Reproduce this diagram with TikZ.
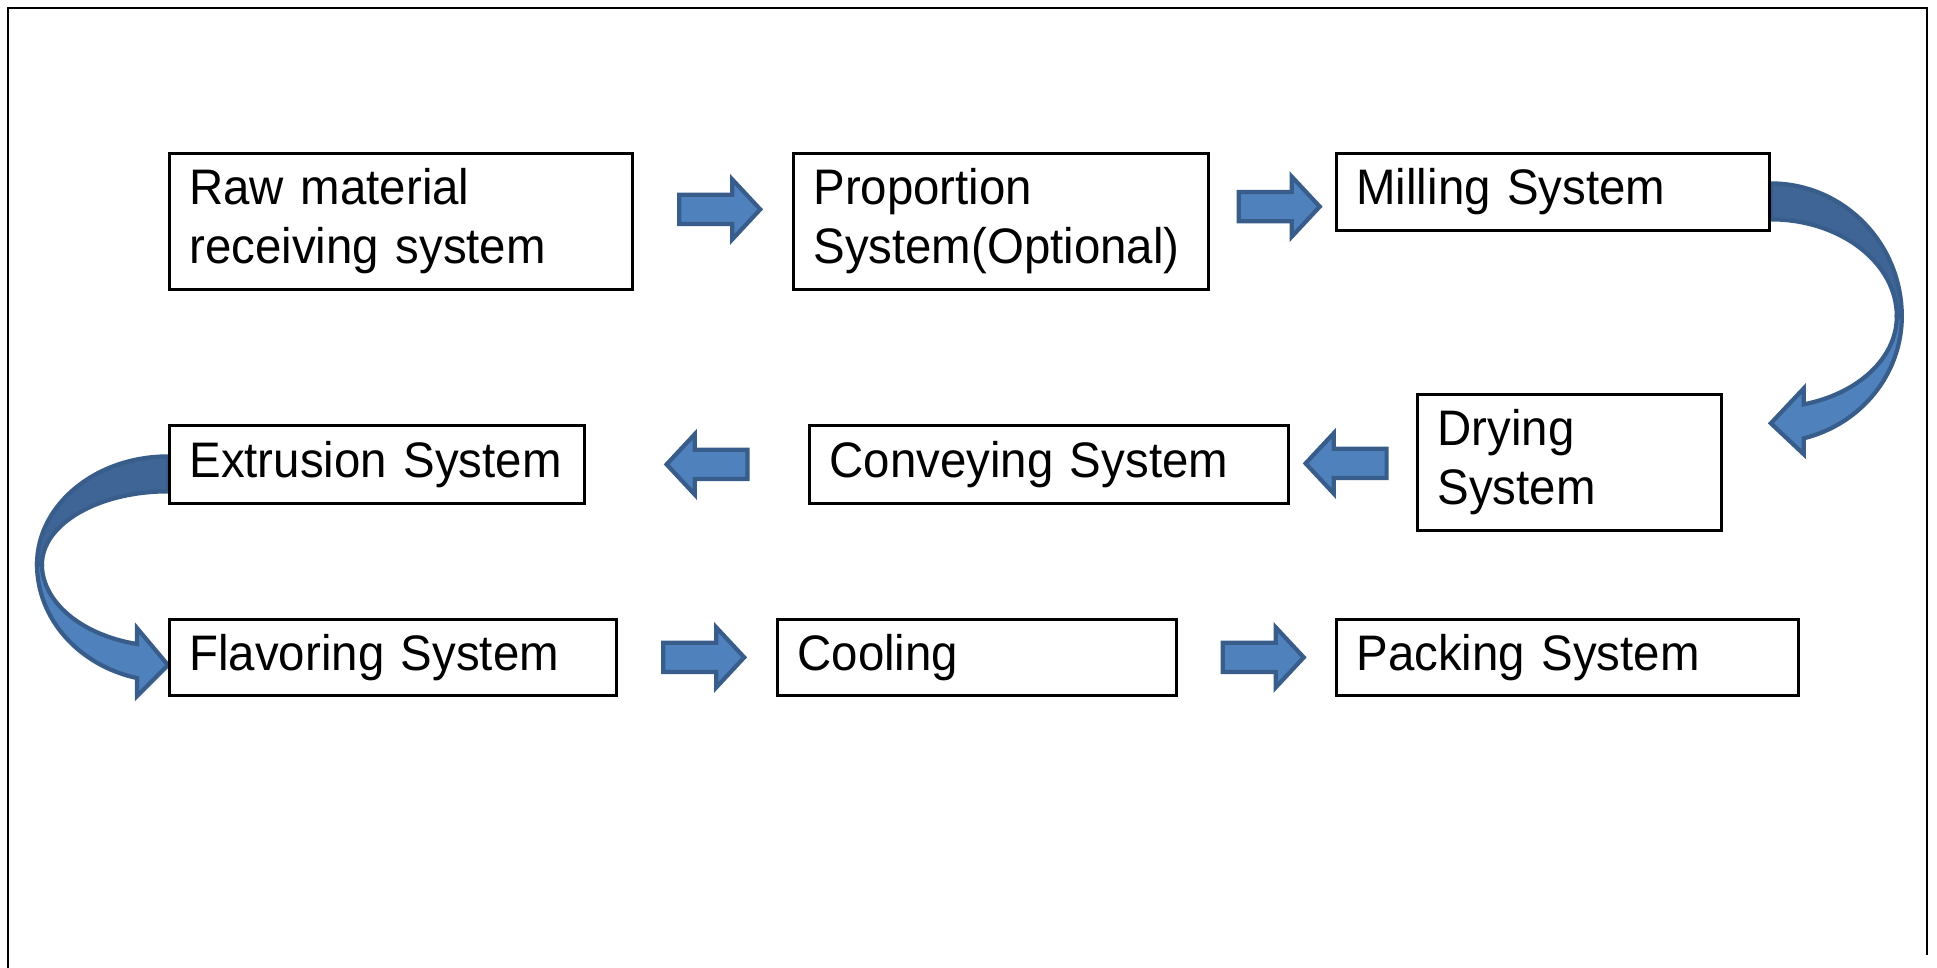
\documentclass[tikz,border=0pt]{standalone}
\usepackage{fontspec}
\setmainfont[FakeStretch=0.95]{Liberation Sans}
\usetikzlibrary{shapes.arrows,calc,backgrounds}

\definecolor{arrowfill}{RGB}{79,129,189}
\definecolor{arrowline}{RGB}{56,93,138}
\definecolor{arrowback}{RGB}{63,101,150}

\tikzset{
  sysbox/.style={draw, line width=0.8pt, rectangle, anchor=north west, align=left,
    inner xsep=0.2cm, font=\fontsize{14.2}{16.8}\selectfont},
  blockarrow/.style={single arrow, draw=arrowline, fill=arrowfill, line width=1.2pt,
    inner xsep=0pt, inner ysep=0.125cm, minimum height=0.81cm, minimum width=0.56cm,
    single arrow head extend=0.155cm, single arrow tip angle=94},
  bandback/.style={draw=arrowline, fill=arrowback, line width=1.2pt},
  bandfront/.style={draw=arrowline, fill=arrowfill, line width=1.2pt}
}

\begin{document}
\begin{tikzpicture}
    \useasboundingbox (0,0) rectangle (19.37,9.68);

    % Outer frame (open at the bottom)
    \draw[line width=0.7pt] (0.08,0) -- (0.08,9.60) -- (19.27,9.60) -- (19.27,0.13);

    % First row of systems
    \node[sysbox, text width=4.23cm, minimum height=1.36cm] (raw) at (1.68,8.16) {Raw material\\receiving system};
    \node[sysbox, text width=3.75cm, minimum height=1.36cm] (prop) at (7.92,8.16) {Proportion\\System(Optional)};
    \node[sysbox, text width=3.93cm, minimum height=0.77cm] (mill) at (13.35,8.16) {Milling System};

    % Second row (runs right to left)
    \node[sysbox, text width=2.64cm, minimum height=1.36cm] (dry) at (14.16,5.75) {Drying\\System};
    \node[sysbox, text width=4.39cm, minimum height=0.78cm] (conv) at (8.08,5.44) {Conveying System};
    \node[sysbox, text width=3.75cm, minimum height=0.78cm] (extr) at (1.68,5.44) {Extrusion System};

    % Third row
    \node[sysbox, text width=4.07cm, minimum height=0.76cm] (flav) at (1.68,3.50) {Flavoring System};
    \node[sysbox, text width=3.59cm, minimum height=0.76cm] (cool) at (7.76,3.50) {Cooling};
    \node[sysbox, text width=4.22cm, minimum height=0.76cm] (pack) at (13.35,3.50) {Packing System};

    % Straight block arrows between neighbours
    \node[blockarrow, yshift=1.2mm] (a1) at ($(raw.east)!0.5!(prop.west)$) {};
    \node[blockarrow] (a2) at ($(prop.east)!0.5!(mill.west)$) {};
    \node[blockarrow, shape border rotate=180] (a3) at ($(dry.west)!0.5!(conv.east)$) {};
    \node[blockarrow, shape border rotate=180, xshift=1.7mm] (a4) at ($(conv.west)!0.5!(extr.east)$) {};
    \node[blockarrow] (a5) at ($(flav.east)!0.5!(cool.west)$) {};
    \node[blockarrow] (a6) at ($(cool.east)!0.5!(pack.west)$) {};

    \begin{scope}[on background layer]
        % Curved arrow: Milling -> Drying
        \filldraw[bandfront] ([yshift=0.85mm]mill.east) ++(1.31,-1.33)
            arc[start angle=0, end angle=-75.4, x radius=1.31, y radius=1.26]
            -- ++(0,-0.16) -- ++(-0.33,0.31) -- ++(0.33,0.35) -- ++(0,-0.16)
            arc[start angle=-74.8, end angle=0, x radius=1.26, y radius=0.91] -- cycle;
        \filldraw[bandback] ([yshift=0.85mm]mill.east)
            arc[start angle=90, end angle=0, x radius=1.31, y radius=1.33] -- ++(-0.05,0)
            arc[start angle=0, end angle=90, x radius=1.26, y radius=0.97] -- cycle;

        % Curved arrow: Extrusion -> Flavoring
        \filldraw[bandfront] ([yshift=0.8mm]extr.west) ++(-1.31,-1.08)
            arc[start angle=180, end angle=256.3, x radius=1.31, y radius=1.17]
            -- ++(0,-0.18) -- ++(0.31,0.31) -- ++(-0.31,0.37) -- ++(0,-0.16)
            arc[start angle=255.8, end angle=180, x radius=1.26, y radius=0.825] -- cycle;
        \filldraw[bandback] ([yshift=0.8mm]extr.west)
            arc[start angle=90, end angle=180, x radius=1.31, y radius=1.08] -- ++(0.05,0)
            arc[start angle=180, end angle=90, x radius=1.26, y radius=0.73] -- cycle;
    \end{scope}
\end{tikzpicture}
\end{document}
